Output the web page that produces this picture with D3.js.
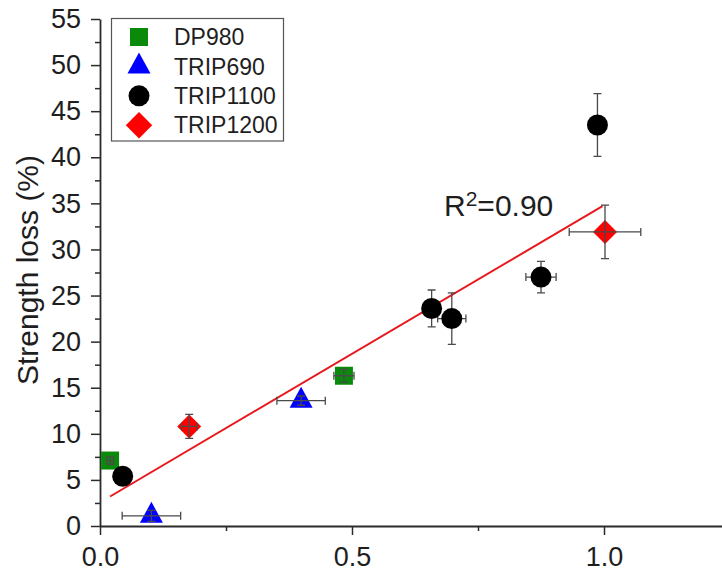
<!DOCTYPE html>
<html><head><meta charset="utf-8">
<script src="https://cdn.jsdelivr.net/npm/d3@7"></script>
<style>
html,body{margin:0;padding:0;background:#fff;}
svg{display:block;font-family:"Liberation Sans",Arial,sans-serif;}
</style></head>
<body>
<svg id="chart" width="722" height="573"></svg>
<script>
// ---- data ----
const seriesNames = ["DP980", "TRIP690", "TRIP1100", "TRIP1200"];
const seriesColors = ["#0a8a0a", "#0000ff", "#000000", "#ff0000"];
const dp980X = [0.020, 0.484];
const dp980Y = [7.1, 16.3];
const dp980XErr = [0.007, 0.020];
const dp980YErr = [0.4, 0.7];
const trip690X = [0.102, 0.399];
const trip690Y = [1.1, 13.6];
const trip690XErr = [0.058, 0.048];
const trip690YErr = [0.6, 0.5];
const trip1100X = [0.045, 0.658, 0.698, 0.875, 0.987];
const trip1100Y = [5.4, 23.6, 22.5, 27.0, 43.5];
const trip1100XErr = [0.005, 0.010, 0.028, 0.030, 0.005];
const trip1100YErr = [0.3, 2.0, 2.8, 1.7, 3.4];
const trip1200X = [0.177, 1.002];
const trip1200Y = [10.8, 31.9];
const trip1200XErr = [0.015, 0.071];
const trip1200YErr = [1.3, 2.9];
const fitX = [0.02, 0.997];
const fitY = [3.2, 34.7];
const yTicks = [0, 5, 10, 15, 20, 25, 30, 35, 40, 45, 50, 55];
const yMinorTicks = [2.5, 7.5, 12.5, 17.5, 22.5, 27.5, 32.5, 37.5, 42.5, 47.5, 52.5];
const xTicks = [0.0, 0.5, 1.0];
const xMinorTicks = [0.25, 0.75];
const rLabel = "0.90";

const xArr = [dp980X, trip690X, trip1100X, trip1200X];
const yArr = [dp980Y, trip690Y, trip1100Y, trip1200Y];
const xeArr = [dp980XErr, trip690XErr, trip1100XErr, trip1200XErr];
const yeArr = [dp980YErr, trip690YErr, trip1100YErr, trip1200YErr];

const svg = d3.select("#chart");
const x = d3.scaleLinear().domain([0, 1.25]).range([100, 730]);
const y = d3.scaleLinear().domain([0, 55]).range([526, 19]);

const axisColor = "#2b2b2b";
function styleAxis(g, fs) {
  g.selectAll("path.domain").attr("stroke", axisColor).attr("stroke-width", 1.8);
  g.selectAll(".tick line").attr("stroke", axisColor).attr("stroke-width", 1.5);
  g.selectAll(".tick text").attr("fill", "#1e1e1e").style("font-size", fs + "px")
    .style("font-family", '"Liberation Sans",Arial,sans-serif');
}

// minor ticks
const yMinor = svg.append("g").attr("transform", "translate(100,0)")
  .call(d3.axisLeft(y).tickValues(yMinorTicks).tickSize(5).tickFormat(""));
yMinor.select("path.domain").remove();
styleAxis(yMinor, 27);
const xMinor = svg.append("g").attr("transform", "translate(0,526)")
  .call(d3.axisBottom(x).tickValues(xMinorTicks).tickSize(5).tickFormat(""));
xMinor.select("path.domain").remove();
styleAxis(xMinor, 27);

// major axes
const yAxisG = svg.append("g").attr("transform", "translate(100,0)")
  .call(d3.axisLeft(y).tickValues(yTicks).tickSize(9).tickSizeOuter(0).tickPadding(10));
styleAxis(yAxisG, 27);
const xAxisG = svg.append("g").attr("transform", "translate(0,526)")
  .call(d3.axisBottom(x).tickValues(xTicks).tickSize(9).tickSizeOuter(0).tickPadding(12).tickFormat(d3.format(".1f")));
styleAxis(xAxisG, 27);

// axis title
svg.append("text")
  .attr("transform", "translate(38,270) rotate(-90)")
  .attr("text-anchor", "middle")
  .attr("fill", "#1e1e1e")
  .style("font-size", "30px")
  .text("Strength loss (%)");

// fit line
const fitData = fitX.map((v, i) => [v, fitY[i]]);
svg.append("path")
  .datum(fitData)
  .attr("d", d3.line().x(d => x(d[0])).y(d => y(d[1])))
  .attr("stroke", "#e8181c").attr("stroke-width", 2).attr("fill", "none");

// symbol path generators
function symbolPath(idx, s) {
  s = s || 1;
  if (idx === 0) { const h = 9 * s; return `M${-h},${-h}H${h}V${h}H${-h}Z`; }
  if (idx === 1) { const w = 11.5 * s, hh = 21 * s; return `M0,${-2*hh/3}L${w},${hh/3}L${-w},${hh/3}Z`; }
  if (idx === 2) { const r = 10.5 * s; return `M${r},0A${r},${r} 0 1,1 ${-r},0A${r},${r} 0 1,1 ${r},0Z`; }
  const d = 12 * s; return `M0,${-d}L${d},0L0,${d}L${-d},0Z`;
}

// markers and error bars
const errColor = "#4a4a4a", cap = 4;
seriesNames.forEach((name, si) => {
  const g = svg.append("g");
  const pts = xArr[si].map((v, i) => ({x: v, y: yArr[si][i], xe: xeArr[si][i], ye: yeArr[si][i]}));
  const drawErr = () => pts.forEach(d => {
    const cx = x(d.x), cy = y(d.y);
    const x0 = x(d.x - d.xe), x1 = x(d.x + d.xe), y0 = y(d.y - d.ye), y1 = y(d.y + d.ye);
    const p = `M${x0},${cy}H${x1}M${x0},${cy-cap}V${cy+cap}M${x1},${cy-cap}V${cy+cap}` +
              `M${cx},${y0}V${y1}M${cx-cap},${y0}H${cx+cap}M${cx-cap},${y1}H${cx+cap}`;
    g.append("path").attr("d", p).attr("stroke", errColor).attr("stroke-width", 1.3).attr("fill", "none");
  });
  if (si === 2) drawErr();
  g.selectAll(null).data(pts).enter().append("path")
    .attr("transform", d => `translate(${x(d.x)},${y(d.y)})`)
    .attr("d", symbolPath(si))
    .attr("fill", seriesColors[si]);
  if (si !== 2) drawErr();
});

// R^2 label
const rt = svg.append("text").attr("x", 444).attr("y", 216).attr("fill", "#1e1e1e").style("font-size", "30px");
rt.append("tspan").text("R");
rt.append("tspan").attr("dy", -10).style("font-size", "21px").text("2");
rt.append("tspan").attr("dy", 10).text("=" + rLabel);

// legend
const leg = svg.append("g");
leg.append("rect").attr("x", 111.5).attr("y", 18.5).attr("width", 172).attr("height", 122.5)
  .attr("fill", "#fff").attr("stroke", "#555").attr("stroke-width", 1.2);
seriesNames.forEach((name, i) => {
  const cy = 37 + i * 29.4;
  leg.append("path").attr("transform", `translate(139,${cy})`)
    .attr("d", symbolPath(i, i === 3 ? 1.1 : 1)).attr("fill", seriesColors[i]);
  leg.append("text").attr("x", 174).attr("y", cy + 8.2).attr("fill", "#1e1e1e")
    .style("font-size", "23px").text(name);
});
</script>
</body></html>
